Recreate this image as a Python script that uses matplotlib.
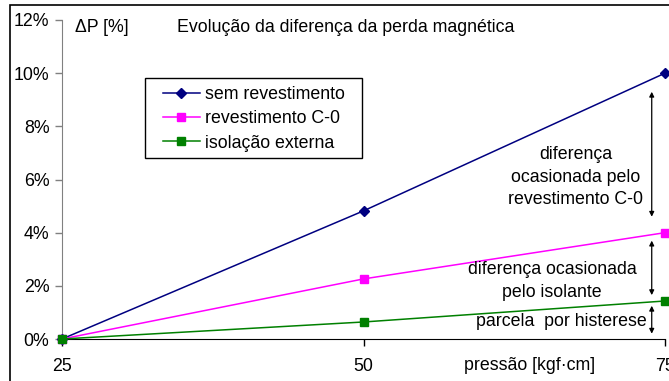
import matplotlib
matplotlib.use("Agg")
import matplotlib.pyplot as plt
from matplotlib.patches import Rectangle

plt.rcParams['font.family'] = ['Liberation Sans', 'DejaVu Sans']

pressao = [25, 50, 75]
sem_revestimento = [0.0, 4.82, 10.0]
revestimento_c0 = [0.0, 2.26, 4.0]
isolacao_externa = [0.0, 0.64, 1.43]
yticks = [0, 2, 4, 6, 8, 10, 12]

FS = 12.8
W, H = 669, 381
fig = plt.figure(figsize=(W / 100, H / 100), dpi=100)
fig.patches.append(Rectangle((10 / W, -0.1), 1.2, (H - 5) / H + 0.1, transform=fig.transFigure,
                             fill=False, edgecolor='black', linewidth=1.2, zorder=0))


def px(x, y):
    return (x / W, 1 - y / H)


ax = fig.add_axes([62 / W, (H - 339) / H, (665 - 62) / W, (339 - 20) / H])
ax.plot(pressao, sem_revestimento, color='#000080', marker='D', markersize=5.5, lw=1.1,
        label='sem revestimento', clip_on=False, zorder=5)
ax.plot(pressao, revestimento_c0, color='#FF00FF', marker='s', markersize=5.7, lw=1.1,
        label='revestimento C-0', clip_on=False, zorder=5)
ax.plot(pressao, isolacao_externa, color='#008000', marker='s', markersize=5.7, lw=1.1,
        label='isolação externa', clip_on=False, zorder=5)

ax.set_xlim(25, 75)
ax.set_ylim(0, 12)
ax.set_xticks(pressao)
ax.set_xticklabels([str(p) for p in pressao])
ax.set_yticks(yticks)
ax.set_yticklabels([f"{t}%" for t in yticks])
ax.tick_params(axis='both', labelsize=FS, direction='out', length=5, width=1, colors='#808080',
               labelcolor='black')
ax.tick_params(axis='y', pad=4)
ax.tick_params(axis='x', pad=9, colors='black')
ax.spines['top'].set_visible(False)
ax.spines['right'].set_visible(False)
ax.spines['left'].set_color('#808080')
ax.spines['bottom'].set_color('black')

# legend frame drawn separately, entries placed inside
fig.patches.append(Rectangle((145 / W, 1 - 158 / H), (362 - 145) / W, (158 - 78) / H,
                             transform=fig.transFigure, fill=True, facecolor='white',
                             edgecolor='black', linewidth=1.0, zorder=3))
leg = fig.legend(loc='upper left', bbox_to_anchor=px(163, 86), bbox_transform=fig.transFigure,
                 frameon=False, fontsize=FS, handlelength=2.08, borderpad=0,
                 labelspacing=0.41, handletextpad=0.28, borderaxespad=0)
leg.set_zorder(4)

fig.text(*px(75, 27), 'ΔP [%]', fontsize=FS, va='center', ha='left')
fig.text(*px(177, 27), 'Evolução da diferença da perda magnética', fontsize=FS,
         va='center', ha='left')
fig.text(*px(530, 366), 'pressão [kgf·cm]', fontsize=FS, va='center', ha='center')

fig.text(*px(576, 177), 'diferença\nocasionada pelo\nrevestimento C-0', fontsize=FS,
         ha='center', va='center', linespacing=1.45)
fig.text(*px(552, 281), 'diferença ocasionada\npelo isolante', fontsize=FS,
         ha='center', va='center', linespacing=1.5)
fig.text(*px(647, 322), 'parcela  por histerese', fontsize=FS, ha='right', va='center')

arrow = dict(arrowstyle='<|-|>', color='black', lw=0.9, mutation_scale=7, shrinkA=0, shrinkB=0)
ax.annotate('', xy=(73.9, 4.6), xytext=(73.9, 9.3), arrowprops=arrow)
ax.annotate('', xy=(73.9, 1.65), xytext=(73.9, 3.7), arrowprops=arrow)
ax.annotate('', xy=(73.9, 0.2), xytext=(73.9, 1.25), arrowprops=arrow)

fig.savefig('out.png', dpi=100)
